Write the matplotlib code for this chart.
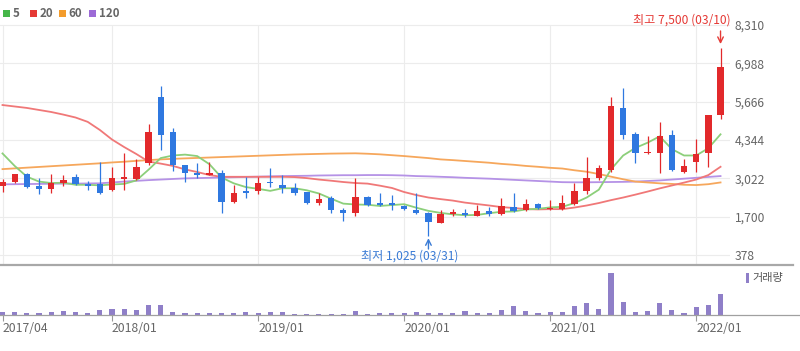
import matplotlib
matplotlib.use('Agg')
import matplotlib.pyplot as plt
from matplotlib.patches import Rectangle
from matplotlib.lines import Line2D

plt.rcParams['font.family'] = ['Noto Sans CJK KR', 'DejaVu Sans']

# monthly candles 2017/04 .. 2022/03
tick_pos = [0, 9, 21, 33, 45, 57]
tick_labels = ['2017/04', '2018/01', '2019/01', '2020/01', '2021/01', '2022/01']
price_ticks = [378, 1700, 3022, 4344, 5666, 6988, 8310]

opens = [2760, 2880, 3160, 2760, 2640, 2850, 3060, 2820, 2820, 2620,
         2990, 2990, 3540, 5840, 4610, 3480, 3210, 3135, 3210, 2210,
         2590, 2590, 2900, 2790, 2700, 2560, 2160, 2330, 1930, 1810,
         2390, 2160, 2160, 2060, 1930, 1810, 1490, 1780, 1830, 1720,
         1890, 1780, 2020, 1930, 2120, 1950, 1950, 2130, 2590, 3020,
         3310, 5440, 4540, 3880, 3900, 4520, 3250, 3590, 3880, 5210]
closes = [2900, 3160, 2730, 2640, 2850, 2960, 2810, 2760, 2500, 3020,
          3060, 3400, 4610, 4510, 3480, 3190, 3140, 3210, 2210, 2520,
          2520, 2850, 2850, 2680, 2500, 2160, 2310, 1930, 1830, 2390,
          2100, 2100, 2100, 1950, 1810, 1520, 1790, 1850, 1760, 1900,
          1790, 2060, 1900, 2120, 1990, 2010, 2160, 2580, 3040, 3370,
          5520, 4520, 3880, 3940, 4480, 3310, 3460, 3850, 5210, 6870]
highs = [3000, 3180, 3190, 3040, 3170, 3135, 3170, 2930, 3590, 3400,
         3900, 3680, 4900, 6200, 4750, 3480, 3540, 3590, 3310, 2790,
         3080, 3080, 3370, 3135, 2850, 2560, 2500, 2410, 2010, 3020,
         2400, 2520, 2450, 2100, 2520, 1870, 1930, 1950, 1980, 2100,
         2020, 2330, 2520, 2300, 2160, 2270, 2450, 2850, 3770, 3480,
         5820, 6130, 4610, 4480, 4970, 4690, 3680, 4380, 5210, 7500]
lows = [2560, 2870, 2680, 2480, 2500, 2760, 2780, 2620, 2470, 2580,
        2620, 2960, 3480, 4000, 3280, 2900, 3020, 3135, 1830, 2180,
        2350, 2480, 2710, 2500, 2445, 2140, 2100, 1810, 1560, 1720,
        2080, 2060, 1930, 1930, 1790, 1025, 1470, 1720, 1700, 1710,
        1730, 1760, 1870, 1900, 1960, 1930, 1930, 2100, 2480, 2960,
        3250, 4370, 3540, 3870, 3190, 3280, 3210, 3250, 3420, 5060]
volumes = [200, 200, 100, 100, 200, 330, 200, 100, 430, 570,
           570, 430, 930, 930, 200, 100, 100, 100, 100, 100,
           230, 100, 230, 230, 50, 50, 50, 50, 50, 370,
           50, 130, 130, 100, 200, 100, 100, 130, 330, 100,
           100, 470, 830, 370, 100, 200, 230, 830, 1170, 500,
           4170, 1270, 230, 370, 1170, 470, 130, 700, 930, 2000]

ma5 = [3880, 3450, 3080, 2910, 2860, 2870, 2800, 2800, 2780, 2810,
       2830, 2950, 3320, 3720, 3810, 3840, 3790, 3510, 3050, 2850,
       2720, 2660, 2590, 2680, 2680, 2610, 2500, 2320, 2150, 2120,
       2110, 2070, 2100, 2130, 2010, 1900, 1830, 1780, 1750, 1760,
       1820, 1870, 1880, 1950, 1970, 2020, 2040, 2170, 2360, 2630,
       3330, 3810, 4070, 4250, 4470, 4030, 3810, 3810, 4060, 4540]
ma20 = [5550, 5500, 5450, 5380, 5310, 5220, 5120, 4970, 4690, 4360,
        4100, 3860, 3600, 3530, 3450, 3330, 3240, 3135, 3075, 3075,
        3075, 3075, 3075, 3075, 3065, 3030, 2980, 2940, 2895, 2860,
        2840, 2770, 2690, 2550, 2445, 2360, 2305, 2255, 2185, 2135,
        2085, 2030, 2000, 1960, 1950, 1960, 1960, 2015, 2085, 2170,
        2270, 2360, 2460, 2565, 2675, 2775, 2875, 2980, 3135, 3420]
ma60 = [3340, 3365, 3390, 3415, 3440, 3465, 3490, 3515, 3540, 3570,
        3595, 3625, 3650, 3675, 3695, 3710, 3725, 3740, 3755, 3770,
        3785, 3800, 3815, 3830, 3845, 3855, 3865, 3875, 3880, 3885,
        3870, 3850, 3820, 3790, 3755, 3720, 3675, 3650, 3620, 3590,
        3560, 3520, 3490, 3450, 3420, 3385, 3360, 3300, 3250, 3170,
        3080, 2990, 2910, 2880, 2850, 2830, 2800, 2790, 2820, 2880]
ma120 = [2815, 2820, 2825, 2830, 2835, 2840, 2840, 2845, 2850, 2880,
         2910, 2935, 2960, 2980, 3000, 3020, 3030, 3040, 3050, 3060,
         3070, 3080, 3090, 3100, 3105, 3110, 3120, 3125, 3130, 3130,
         3135, 3135, 3130, 3120, 3100, 3090, 3075, 3060, 3040, 3025,
         3010, 2990, 2970, 2950, 2930, 2910, 2890, 2885, 2885, 2890,
         2895, 2900, 2910, 2930, 2950, 2980, 3010, 3040, 3070, 3100]

W, H = 800, 351
fig = plt.figure(figsize=(W / 100, H / 100), dpi=100)
fig.patch.set_facecolor('white')

step = 12.17       # px per month
x0 = 2.5           # px of first candle
right_px = 730
xlim = (-x0 / step, (right_px - x0) / step)

# price panel: px y 0..265, 8310 at y=25, 378 at y=255
k = (8310 - 378) / 230.0
ax = fig.add_axes([0, 1 - 265 / H, right_px / W, 265 / H])
ax.set_xlim(*xlim)
ax.set_ylim(8310 - 240 * k, 8310 + 25 * k)
for s in ax.spines.values():
    s.set_visible(False)
ax.set_xticks([])
ax.set_yticks(price_ticks)
ax.set_yticklabels([f'{v:,}' for v in price_ticks])
ax.yaxis.tick_right()
ax.tick_params(axis='y', length=0, pad=3.5, labelsize=8.7, labelcolor='#666666')
for v in price_ticks:
    ax.axhline(v, color='#ececec', lw=0.8, zorder=0)
ax.vlines(tick_pos, 8310 - 240 * k, 8310, color='#ececec', lw=0.8, zorder=0)

idx = list(range(len(closes)))
ax.plot(idx, ma120, color='#b592e6', lw=1.3, zorder=2)
ax.plot(idx, ma60, color='#f6a75c', lw=1.3, zorder=2)
ax.plot(idx, ma20, color='#f07878', lw=1.3, zorder=2)
ax.plot(idx, ma5, color='#8ccf7a', lw=1.3, zorder=2)

red, blue = '#e2292b', '#2f78e0'
bw = 0.52
for i in idx:
    o, c = opens[i], closes[i]
    col = red if c >= o else blue
    ax.vlines(i, lows[i], highs[i], color=col, lw=0.9, zorder=3)
    ax.add_patch(Rectangle((i - bw / 2, min(o, c)), bw, max(abs(c - o), 50),
                           facecolor=col, edgecolor='none', zorder=4))

# high / low markers
hi_i = highs.index(max(highs))
lo_i = lows.index(min(lows))
ax.annotate('', xy=(hi_i, highs[hi_i]), xycoords='data',
            xytext=(0, 12.6), textcoords='offset points',
            arrowprops=dict(arrowstyle='->', color='#e53935', lw=1.0,
                            shrinkA=0, shrinkB=3.2))
ax.annotate(f'최고 {highs[hi_i]:,} (03/10)', xy=(hi_i, highs[hi_i]),
            xytext=(7.6, 20.5), textcoords='offset points',
            ha='right', va='center', fontsize=8.7, color='#e53935',
            annotation_clip=False)
ax.annotate('', xy=(lo_i, lows[lo_i]), xycoords='data',
            xytext=(0, -9.2), textcoords='offset points',
            arrowprops=dict(arrowstyle='->', color='#3a7bd5', lw=1.0,
                            shrinkA=0, shrinkB=1.4))
ax.annotate(f'최저 {lows[lo_i]:,} (03/31)', xy=(lo_i, lows[lo_i]),
            xytext=(21.3, -14.3), textcoords='offset points',
            ha='right', va='center', fontsize=8.7, color='#3a7bd5',
            annotation_clip=False)

# volume panel: baseline at px 314.5
vtop, vbot = 265, 314.5
axv = fig.add_axes([0, 1 - vbot / H, right_px / W, (vbot - vtop) / H])
axv.set_xlim(*xlim)
axv.set_ylim(0, max(volumes) * (vbot - vtop) / 41.8)
for s in axv.spines.values():
    s.set_visible(False)
axv.bar(idx, volumes, width=0.42, color='#8f7fc8', zorder=3)
axv.set_yticks([])
axv.set_xticks(tick_pos)
axv.set_xticklabels(tick_labels, ha='left')
axv.tick_params(axis='x', length=4, width=0.8, color='#999999', pad=1.5,
                labelsize=8.8, labelcolor='#666666')

# separators
fig.add_artist(Line2D([0, 793 / W], [1 - 265 / H] * 2, color='#a8a8a8', lw=1.6))
fig.add_artist(Line2D([0, 1], [1 - vbot / H] * 2, color='#a0a0a0', lw=0.9))

# volume legend
fig.add_artist(Rectangle((746 / W, 1 - 283 / H), 3 / W, 10 / H,
                         facecolor='#8f7fc8', edgecolor='none'))
fig.text(752 / W, 1 - 278 / H, '거래량', fontsize=8, color='#555555',
         va='center', ha='left')

# MA legend
legend = [('5', '#45b649', 3), ('20', '#e53935', 30), ('60', '#f39c2c', 59),
          ('120', '#9c6ad6', 89)]
for txt, col, px in legend:
    fig.add_artist(Rectangle((px / W, 1 - 17 / H), 7 / W, 7 / H,
                             facecolor=col, edgecolor='none'))
    fig.text((px + 9.5) / W, 1 - 13.5 / H, txt, fontsize=8.3, color='#666666',
             fontweight='bold', va='center', ha='left')

fig.savefig('out.png', dpi=100, facecolor='white')
